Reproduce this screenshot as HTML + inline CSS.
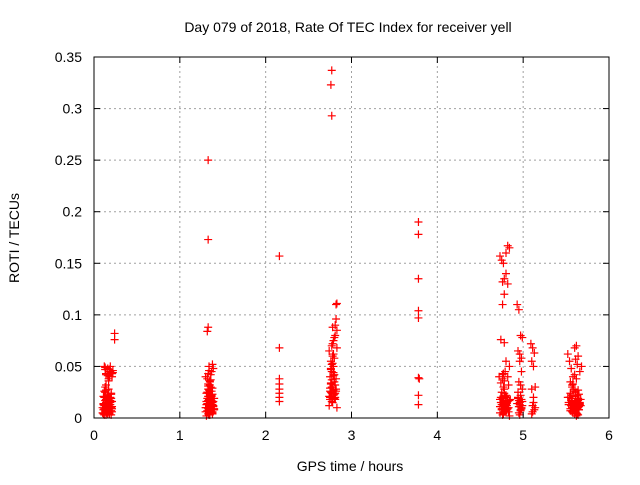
<!DOCTYPE html>
<html><head><meta charset="utf-8">
<style>
body{margin:0;background:#fff;}
svg text{font-family:"Liberation Sans",sans-serif;font-size:14px;fill:#000;}
</style></head>
<body>
<svg id="chart" width="640" height="480" xmlns="http://www.w3.org/2000/svg">
<rect width="640" height="480" fill="#fff"/>
<g id="grid"></g><g id="marks"></g><g id="axes"></g>
</svg>
<script>
const xTicks=[0,1,2,3,4,5,6];
const yTicks=[0,0.05,0.1,0.15,0.2,0.25,0.3,0.35];
const yTickLabels=["0","0.05","0.1","0.15","0.2","0.25","0.3","0.35"];
const times=[
0.10,0.11,0.12,0.13,0.14,0.15,0.16,0.17,0.18,0.19,0.20,0.21,0.12,0.14,0.16,0.18,0.20,0.11,0.13,0.15,0.17,0.19,0.21,0.12,0.14,0.16,0.18,0.20,0.13,0.15,0.17,0.19,0.11,0.14,0.16,0.18,0.20,0.15,0.17,0.13,0.19,0.12,0.14,0.16,0.18,0.20,0.22,0.17,0.19,0.21,0.24,0.24,
0.10,0.12,0.13,0.15,0.16,0.18,0.19,0.21,0.11,0.14,0.17,0.20,0.12,0.15,0.18,0.21,0.13,0.16,0.19,0.11,0.14,0.17,0.20,0.22,0.16,0.18,0.14,0.21,0.13,0.17,
1.30,1.31,1.32,1.33,1.34,1.35,1.36,1.37,1.38,1.39,1.40,1.32,1.34,1.36,1.38,1.33,1.35,1.37,1.31,1.34,1.36,1.38,1.40,1.33,1.35,1.37,1.32,1.34,1.36,1.30,1.33,1.35,1.37,1.39,1.34,1.36,1.38,1.35,1.33,1.37,1.39,1.40,1.36,1.31,1.34,1.38,1.33,1.33,1.33,1.32,
1.31,1.33,1.35,1.37,1.39,1.32,1.34,1.36,1.38,1.30,1.33,1.35,1.37,1.39,1.31,1.34,1.36,1.38,1.32,1.35,1.37,1.33,1.36,1.34,1.38,1.35,
2.16,2.16,2.16,2.16,2.16,2.16,2.16,2.16,
2.77,2.76,2.77,2.83,2.82,2.74,2.75,2.76,2.77,2.78,2.79,2.80,2.81,2.82,2.83,2.75,2.77,2.79,2.81,2.76,2.78,2.80,2.82,2.74,2.77,2.79,2.81,2.83,2.76,2.78,2.80,2.75,2.77,2.79,2.82,2.78,2.80,2.76,2.81,2.79,2.77,2.83,
2.75,2.77,2.79,2.81,2.76,2.78,2.80,2.74,2.77,2.79,2.82,2.76,2.78,2.80,2.75,2.81,
3.78,3.78,3.78,3.78,3.78,3.78,3.79,3.78,3.78,
4.73,4.75,4.77,4.80,4.82,4.84,4.76,4.78,4.80,4.82,4.76,4.74,4.78,4.80,4.82,4.84,4.76,4.78,4.73,4.75,4.77,4.79,4.81,4.83,4.85,4.74,4.76,4.78,4.80,4.82,4.75,4.77,4.79,4.81,4.74,4.76,4.78,4.80,4.77,4.79,4.81,4.83,4.84,4.72,4.78,
4.73,4.75,4.77,4.79,4.81,4.83,4.74,4.76,4.78,4.80,4.82,4.75,4.77,4.79,4.81,4.73,4.76,4.78,4.80,4.84,
4.93,4.95,4.97,4.99,4.96,4.98,4.94,4.96,4.98,4.95,4.97,4.99,4.94,4.96,4.98,4.95,4.97,4.99,4.96,4.98,4.94,
4.93,4.95,4.97,4.99,4.94,4.96,4.98,4.95,4.97,
5.09,5.11,5.13,5.10,5.12,5.14,5.10,5.12,5.11,5.13,5.10,5.12,5.14,5.11,
5.52,5.54,5.56,5.58,5.60,5.62,5.64,5.66,5.68,5.55,5.57,5.59,5.61,5.63,5.65,5.53,5.56,5.58,5.60,5.62,5.64,5.66,5.54,5.57,5.59,5.61,5.63,5.65,5.55,5.58,5.60,5.62,5.64,5.56,5.59,5.61,5.63,5.57,5.60,5.62,5.64,5.66,5.61,5.63,5.58,5.65,5.52,5.67,
5.53,5.55,5.57,5.59,5.61,5.63,5.65,5.67,5.54,5.56,5.58,5.60,5.62,5.64,5.66,5.55,5.57,5.59,5.61,5.63,5.65,5.56,5.58,5.60,5.62,5.64];
const roti=[
0.005,0.008,0.012,0.006,0.015,0.010,0.004,0.018,0.009,0.013,0.007,0.011,0.020,0.003,0.022,0.016,0.019,0.014,0.025,0.005,0.012,0.017,0.006,0.009,0.027,0.014,0.004,0.023,0.030,0.011,0.008,0.019,0.021,0.032,0.007,0.013,0.010,0.015,0.028,0.047,0.045,0.050,0.042,0.048,0.040,0.044,0.046,0.038,0.050,0.043,0.082,0.076,
0.010,0.003,0.017,0.008,0.021,0.005,0.015,0.009,0.013,0.018,0.006,0.024,0.026,0.012,0.011,0.016,0.007,0.014,0.020,0.004,0.009,0.023,0.003,0.044,0.041,0.047,0.043,0.040,0.049,0.036,
0.006,0.010,0.014,0.004,0.018,0.008,0.022,0.012,0.005,0.016,0.009,0.025,0.003,0.020,0.013,0.028,0.007,0.017,0.024,0.011,0.030,0.006,0.019,0.033,0.015,0.022,0.038,0.027,0.010,0.040,0.043,0.035,0.045,0.048,0.050,0.042,0.052,0.032,0.021,0.026,0.012,0.008,0.037,0.002,0.046,0.029,0.250,0.173,0.088,0.084,
0.013,0.009,0.003,0.015,0.011,0.019,0.006,0.014,0.023,0.010,0.017,0.005,0.021,0.008,0.016,0.012,0.018,0.004,0.007,0.026,0.013,0.031,0.009,0.024,0.015,0.036,
0.157,0.068,0.038,0.033,0.028,0.024,0.020,0.016,
0.337,0.323,0.293,0.111,0.110,0.012,0.018,0.025,0.030,0.015,0.022,0.035,0.020,0.028,0.010,0.040,0.045,0.050,0.032,0.055,0.060,0.042,0.038,0.065,0.070,0.075,0.080,0.085,0.048,0.088,0.058,0.026,0.052,0.062,0.096,0.072,0.078,0.034,0.090,0.044,0.016,0.068,
0.020,0.024,0.027,0.018,0.033,0.030,0.023,0.021,0.037,0.041,0.026,0.047,0.053,0.019,0.029,0.024,
0.190,0.178,0.135,0.104,0.097,0.039,0.038,0.022,0.013,
0.157,0.153,0.150,0.160,0.167,0.165,0.132,0.135,0.140,0.130,0.110,0.076,0.073,0.055,0.040,0.050,0.042,0.036,0.005,0.008,0.012,0.015,0.010,0.006,0.018,0.020,0.003,0.014,0.022,0.009,0.025,0.030,0.016,0.012,0.034,0.038,0.028,0.007,0.043,0.045,0.020,0.032,0.002,0.040,0.120,
0.011,0.013,0.017,0.007,0.014,0.010,0.015,0.019,0.006,0.012,0.016,0.009,0.004,0.021,0.008,0.018,0.011,0.024,0.013,0.017,
0.110,0.105,0.080,0.078,0.062,0.058,0.065,0.055,0.045,0.035,0.032,0.028,0.020,0.015,0.010,0.005,0.008,0.012,0.003,0.018,0.025,
0.014,0.011,0.007,0.016,0.019,0.013,0.009,0.017,0.022,
0.072,0.068,0.063,0.055,0.050,0.030,0.028,0.020,0.012,0.008,0.004,0.015,0.010,0.006,
0.062,0.055,0.048,0.040,0.068,0.070,0.060,0.045,0.050,0.035,0.030,0.028,0.025,0.022,0.018,0.015,0.012,0.010,0.008,0.005,0.003,0.014,0.020,0.006,0.009,0.016,0.004,0.011,0.024,0.007,0.013,0.002,0.019,0.017,0.026,0.021,0.010,0.032,0.042,0.038,0.027,0.015,0.057,0.052,0.033,0.023,0.020,0.012,
0.013,0.009,0.016,0.011,0.006,0.014,0.008,0.018,0.020,0.012,0.005,0.015,0.009,0.017,0.013,0.007,0.022,0.010,0.016,0.011,0.008,0.019,0.014,0.004,0.012,0.010];
const X0=94,X1=609,Y0=418,Y1=57;
const sx=v=>X0+(v-0)/(6-0)*(X1-X0);
const sy=v=>Y0-(v-0)/(0.35-0)*(Y0-Y1);
const NS="http://www.w3.org/2000/svg";
function mk(t,a,p){const e=document.createElementNS(NS,t);for(const k in a)e.setAttribute(k,a[k]);p.appendChild(e);return e;}
const grid=document.getElementById('grid'),axes=document.getElementById('axes'),marks=document.getElementById('marks');
xTicks.forEach((t,i)=>{const x=sx(t);
 if(i>0&&i<xTicks.length-1){const g=mk('line',{x1:x,x2:x,y1:Y0,y2:Y1,stroke:'#a0a0a0','stroke-dasharray':'2,3'},grid);
 
 }
 mk('line',{x1:x,x2:x,y1:Y0,y2:Y0-6,stroke:'#000'},axes);mk('line',{x1:x,x2:x,y1:Y1,y2:Y1+6,stroke:'#000'},axes);
 const tx=mk('text',{x:x,y:Y0+22,'text-anchor':'middle'},axes);tx.textContent=t;
 
 });
yTicks.forEach((t,i)=>{const y=sy(t);
 if(i>0&&i<yTicks.length-1){const g=mk('line',{x1:X0,x2:X1,y1:y,y2:y,stroke:'#a0a0a0','stroke-dasharray':'2,3'},grid);
 
 }
 mk('line',{x1:X0,x2:X0+6,y1:y,y2:y,stroke:'#000'},axes);mk('line',{x1:X1,x2:X1-6,y1:y,y2:y,stroke:'#000'},axes);
 const tx=mk('text',{x:X0-12,y:y+5,'text-anchor':'end'},axes);tx.textContent=yTickLabels[i];
 
 });
const fr=mk('rect',{x:X0,y:Y1,width:X1-X0,height:Y0-Y1,fill:'none',stroke:'#000'},axes);


times.forEach((t,i)=>{const x=sx(t),y=sy(roti[i]);
 const p=mk('path',{d:`M${x-4},${y}H${x+4}M${x},${y-4}V${y+4}`,stroke:'#f00','stroke-width':1.2,fill:'none'},marks);
 
 });
const ti=mk('text',{x:348,y:32,'text-anchor':'middle'},axes);ti.textContent='Day 079 of 2018, Rate Of TEC Index for receiver yell';


const xl=mk('text',{x:350,y:471,'text-anchor':'middle'},axes);xl.textContent='GPS time / hours';


const yl=mk('text',{x:19,y:238,'text-anchor':'middle',transform:'rotate(-90 19 238)'},axes);yl.textContent='ROTI / TECUs';


</script>
</body></html>
